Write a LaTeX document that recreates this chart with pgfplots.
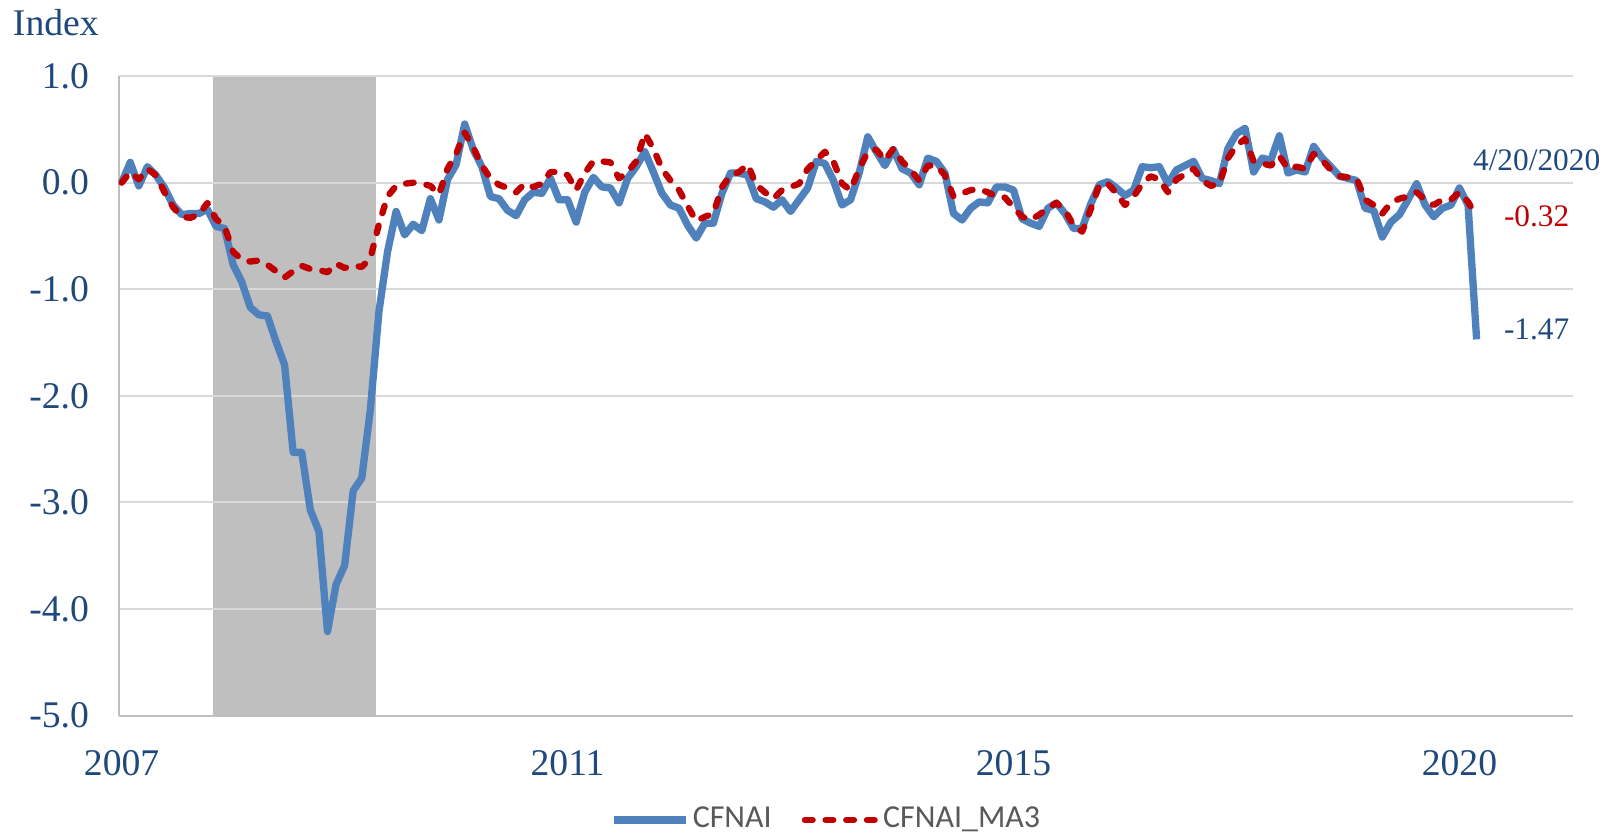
\documentclass[border=0pt]{standalone}
\usepackage{pgfplots}
\usepackage{pgfplotstable}
\usepackage{fontspec}
\setmainfont{Liberation Serif}
\newfontfamily\legendfont{Carlito}
\pgfplotsset{compat=1.18}
\definecolor{LineBlue}{HTML}{4F81BD}
\definecolor{LineRed}{HTML}{C00000}
\definecolor{TextBlue}{HTML}{1F497D}
\definecolor{GridGray}{HTML}{D9D9D9}
\definecolor{ShadeGray}{HTML}{BFBFBF}
\definecolor{AxisGray}{HTML}{BFBFBF}
\definecolor{LegendText}{HTML}{595959}

% months since Jan 2007, CFNAI, CFNAI_MA3
\pgfplotstableread{
m cfnai ma3
0 0.00 0.00
1 0.19 0.10
2 -0.03 0.03
3 0.15 0.13
4 0.07 0.07
5 -0.05 -0.09
6 -0.21 -0.23
7 -0.30 -0.32
8 -0.29 -0.33
9 -0.29 -0.30
10 -0.25 -0.19
11 -0.41 -0.34
12 -0.43 -0.41
13 -0.77 -0.65
14 -0.93 -0.72
15 -1.17 -0.74
16 -1.24 -0.73
17 -1.25 -0.77
18 -1.49 -0.83
19 -1.71 -0.89
20 -2.53 -0.83
21 -2.53 -0.78
22 -3.07 -0.81
23 -3.27 -0.82
24 -4.21 -0.84
25 -3.77 -0.76
26 -3.59 -0.80
27 -2.89 -0.78
28 -2.77 -0.79
29 -2.13 -0.71
30 -1.21 -0.39
31 -0.65 -0.13
32 -0.27 -0.03
33 -0.49 -0.01
34 -0.39 0.00
35 -0.45 -0.01
36 -0.15 -0.03
37 -0.35 -0.11
38 0.03 0.13
39 0.17 0.27
40 0.55 0.47
41 0.31 0.33
42 0.15 0.16
43 -0.13 0.04
44 -0.15 -0.02
45 -0.26 -0.05
46 -0.31 -0.09
47 -0.16 -0.01
48 -0.09 -0.04
49 -0.10 -0.01
50 0.04 0.10
51 -0.16 0.10
52 -0.16 0.07
53 -0.37 -0.07
54 -0.09 0.09
55 0.05 0.20
56 -0.04 0.20
57 -0.05 0.19
58 -0.19 0.04
59 0.04 0.10
60 0.15 0.20
61 0.29 0.46
62 0.10 0.32
63 -0.10 0.13
64 -0.21 0.02
65 -0.24 -0.07
66 -0.40 -0.22
67 -0.52 -0.36
68 -0.38 -0.32
69 -0.38 -0.29
70 -0.10 -0.04
71 0.09 0.07
72 0.09 0.10
73 0.07 0.17
74 -0.15 -0.02
75 -0.18 -0.09
76 -0.23 -0.15
77 -0.16 -0.07
78 -0.27 -0.04
79 -0.16 -0.01
80 -0.05 0.13
81 0.20 0.21
82 0.18 0.29
83 0.02 0.20
84 -0.21 -0.01
85 -0.16 -0.07
86 0.09 0.13
87 0.43 0.29
88 0.29 0.31
89 0.16 0.21
90 0.31 0.32
91 0.13 0.20
92 0.09 0.12
93 -0.02 0.02
94 0.23 0.16
95 0.20 0.16
96 0.09 0.07
97 -0.29 -0.13
98 -0.35 -0.10
99 -0.24 -0.07
100 -0.18 -0.06
101 -0.19 -0.09
102 -0.04 -0.13
103 -0.04 -0.14
104 -0.07 -0.23
105 -0.34 -0.32
106 -0.38 -0.35
107 -0.41 -0.30
108 -0.24 -0.24
109 -0.19 -0.19
110 -0.29 -0.26
111 -0.43 -0.40
112 -0.43 -0.46
113 -0.20 -0.25
114 -0.02 -0.02
115 0.01 -0.01
116 -0.05 -0.10
117 -0.12 -0.21
118 -0.07 -0.13
119 0.15 -0.01
120 0.14 0.06
121 0.15 0.03
122 -0.01 -0.09
123 0.12 0.03
124 0.16 0.08
125 0.20 0.13
126 0.04 0.02
127 0.02 -0.03
128 -0.01 -0.01
129 0.32 0.23
130 0.46 0.35
131 0.51 0.41
132 0.10 0.20
133 0.23 0.18
134 0.21 0.16
135 0.44 0.25
136 0.09 0.13
137 0.12 0.15
138 0.10 0.13
139 0.34 0.27
140 0.23 0.21
141 0.15 0.12
142 0.06 0.06
143 0.04 0.05
144 0.02 0.04
145 -0.24 -0.16
146 -0.26 -0.21
147 -0.51 -0.29
148 -0.37 -0.19
149 -0.30 -0.15
150 -0.16 -0.13
151 -0.01 -0.09
152 -0.21 -0.16
153 -0.32 -0.21
154 -0.24 -0.16
155 -0.21 -0.16
156 -0.05 -0.09
157 -0.21 -0.18
158 -1.47 -0.32
}\data

% recession shading, Dec 2007 - Jun 2009 (corners of the band)
\pgfplotstableread{
m y
10.7 -5
10.7 1
29.65 1
29.65 -5
}\recession

\begin{document}
\begin{tikzpicture}
  \begin{axis}[
      set layers,
      at={(0pt,0pt)}, anchor=south west,
      scale only axis,
      width=436.1pt, height=191.9pt,
      xmin=-0.31, xmax=169.2,
      ymin=-5, ymax=1,
      clip=false,
      axis lines=left,
      axis line style={-, draw=AxisGray, line width=0.7pt},
      major tick length=0pt,
      xtick={0,52,104,156},
      xticklabels={2007,2011,2015,2020},
      ytick={-5,-4,-3,-2,-1,0,1},
      yticklabels={-5.0,-4.0,-3.0,-2.0,-1.0,0.0,1.0},
      ymajorgrids,
      grid style={draw=GridGray, line width=0.6pt},
      tick label style={font=\fontsize{11.3}{13}\selectfont, text=TextBlue, inner sep=0pt},
      yticklabel style={xshift=-8.8pt},
      xticklabel style={anchor=north, yshift=-10.3pt},
      no markers,
      legend style={at={(0.487,-0.163)}, anchor=center, draw=none, fill=none,
        legend columns=2, inner sep=0pt,
        font=\legendfont\fontsize{9.6}{11}\selectfont, text=LegendText,
        /tikz/every even column/.append style={column sep=8pt},
        nodes={inner sep=1pt}},
      legend image code/.code={\draw[#1] (0pt,0pt) -- (21.5pt,0pt);},
    ]
    \addplot[fill=ShadeGray, draw=none, on layer=axis background, forget plot]
      table[x=m, y=y] {\recession};
    \addplot[LineBlue, line width=2.2pt, line join=round] table[x=m, y=cfnai] {\data};
    \addplot[LineRed, line width=1.9pt, line cap=round, line join=round,
      dash pattern=on 2.3pt off 3.9pt] table[x=m, y=ma3] {\data};
    \legend{CFNAI, CFNAI\_MA3}
    \node[font=\fontsize{9.4}{11}\selectfont, text=TextBlue] at (axis cs:165,0.21) {4/20/2020};
    \node[font=\fontsize{9.4}{11}\selectfont, text=LineRed] at (axis cs:165,-0.32) {-0.32};
    \node[font=\fontsize{9.4}{11}\selectfont, text=TextBlue] at (axis cs:165,-1.38) {-1.47};
  \end{axis}
  \node[anchor=west, inner sep=0pt, font=\fontsize{11.3}{13}\selectfont, text=TextBlue]
    at (-32pt,207.9pt) {Index};
  \pgfresetboundingbox
  \path (-35.7pt,-34.89pt) rectangle (449.4pt,214.71pt);
\end{tikzpicture}
\end{document}
